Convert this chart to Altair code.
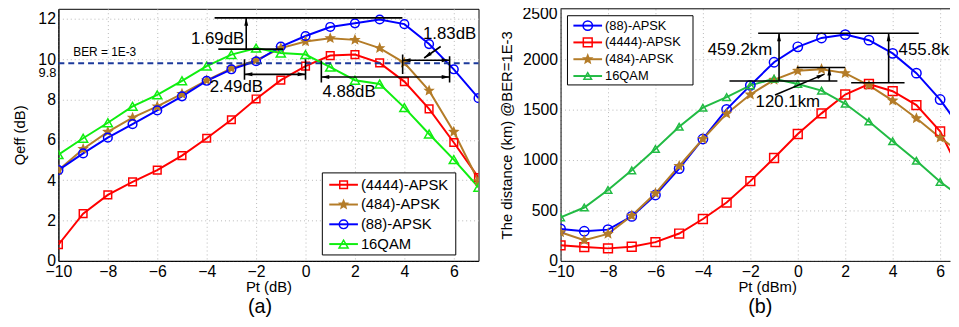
import altair as alt
import pandas as pd

FONT = "Liberation Sans"

# ---------------- data ----------------
pt = list(range(-10, 8))

names_a = ["(4444)-APSK", "(484)-APSK", "(88)-APSK", "16QAM"]
q_4444 = [0.80, 2.34, 3.27, 3.92, 4.50, 5.22, 6.08, 7.00, 8.03, 8.96, 9.66, 10.18, 10.23, 9.82, 8.89, 7.54, 5.87, 4.13]
q_484 = [4.50, 5.55, 6.40, 7.10, 7.66, 8.28, 8.95, 9.55, 9.95, 10.55, 10.88, 11.04, 10.96, 10.55, 9.82, 8.44, 6.40, 3.95]
q_88 = [4.50, 5.33, 6.11, 6.78, 7.46, 8.16, 8.93, 9.50, 9.90, 10.63, 11.15, 11.60, 11.78, 11.97, 11.74, 10.75, 9.50, 8.07]
q_qam = [5.27, 6.08, 6.85, 7.66, 8.23, 8.93, 9.66, 10.23, 10.55, 10.31, 10.23, 9.61, 8.96, 8.77, 7.60, 6.29, 5.02, 3.65]

names_b = ["(88)-APSK", "(4444)-APSK", "(484)-APSK", "16QAM"]
d_88 = [317, 294, 310, 441, 653, 915, 1209, 1503, 1741, 1970, 2123, 2211, 2244, 2189, 2058, 1862, 1600, 1270]
d_4444 = [154, 137, 124, 140, 186, 271, 415, 578, 791, 1020, 1258, 1463, 1650, 1754, 1683, 1545, 1284, 805]
d_484 = [284, 206, 268, 448, 670, 941, 1209, 1460, 1650, 1796, 1885, 1901, 1862, 1741, 1590, 1414, 1222, 1050]
d_qam = [431, 529, 703, 898, 1110, 1330, 1519, 1624, 1741, 1806, 1754, 1689, 1558, 1382, 1186, 993, 784, 612]

ber_level = [9.8]
ber_text = ["BER = 1E-3"]
top_tick_b = [2500]

# annotation segments (a): x1, y1, x2, y2
seg_a_x1 = [-3.68, -3.53, -2.40, -2.47, 0.00, -2.47, 0.64, 5.83, 0.64, 3.93, 3.93, 5.47]
seg_a_y1 = [12.05, 10.50, 10.50, 8.98, 8.98, 9.25, 8.85, 8.85, 9.12, 9.27, 9.95, 10.63]
seg_a_x2 = [3.92, -0.90, -2.40, -2.47, 0.00, 0.00, 0.64, 5.83, 5.83, 3.93, 5.83, 4.80]
seg_a_y2 = [12.05, 10.50, 12.05, 10.00, 10.00, 9.25, 9.94, 10.15, 9.12, 10.24, 9.95, 10.06]
head_a_x = [-2.40, -2.47, 0.00, 0.64, 5.83, 3.93, 5.83, 4.80]
head_a_y = [12.05, 9.25, 9.25, 9.12, 9.12, 9.95, 9.95, 10.06]
head_a_ang = [0, 270, 90, 270, 90, 270, 90, 235]
lab_a = ["1.69dB", "2.49dB", "4.88dB", "1.83dB"]
lab_a_x = [-2.48, -2.80, 1.76, 5.83]
lab_a_y = [11.02, 8.60, 8.36, 11.23]
lab_a_align = ["right", "center", "center", "center"]

# annotation segments (b)
seg_b_x1 = [-1.67, -2.88, 2.25, -0.79, 3.83, -0.04, 1.33, -0.96]
seg_b_y1 = [2257, 1784, 1767, 1784, 1767, 1918, 1784, 1646]
seg_b_x2 = [5.10, 1.67, 4.50, -0.79, 3.83, 2.00, 1.33, 1.125]
seg_b_y2 = [2257, 1784, 1767, 2257, 2257, 1918, 1918, 1852]
head_b_x = [-0.79, 3.83, 1.33, 1.125]
head_b_y = [2257, 2257, 1918, 1852]
head_b_ang = [0, 0, 0, 67]
lab_b = ["459.2km", "455.8km", "120.1km"]
lab_b_x = [-1.08, 4.25, -0.42]
lab_b_y = [2087, 2087, 1578]
lab_b_align = ["right", "left", "center"]

captions = ["(a)", "(b)"]

# ---------------- styles ----------------
RED, BROWN, BLUE = "#ff0000", "#b47c28", "#0000ff"
GREEN_A, GREEN_B = "#10ee10", "#22bb44"
STAR = "M0,-1L0.26,-0.36L0.95,-0.31L0.43,0.14L0.59,0.81L0,0.45L-0.59,0.81L-0.43,0.14L-0.95,-0.31L-0.26,-0.36Z"
HEAD = "M0,0L0.5,2L-0.5,2Z"

style = {
    "(4444)-APSK": (RED, "transparent", "square", 60),
    "(484)-APSK": (BROWN, BROWN, STAR, 85),
    "(88)-APSK": (BLUE, "transparent", "circle", 90),
    "16QAM": (None, "transparent", "triangle-up", 95),
}


def scales(names, green):
    st = [style[n][0] or green for n in names]
    fi = [style[n][1] for n in names]
    sh = [style[n][2] for n in names]
    sz = [style[n][3] for n in names]
    return (alt.Scale(domain=names, range=st), alt.Scale(domain=names, range=fi),
            alt.Scale(domain=names, range=sh), alt.Scale(domain=names, range=sz))


def long_df(names, series):
    rows = []
    for n, vals in zip(names, series):
        for x, v in zip(pt, vals):
            rows.append({"pt": x, "val": v, "series": n})
    return pd.DataFrame(rows)


one = pd.DataFrame({"k": [0]})


def panel(df, names, green, xdom, ydom, width, height, xvals, yvals, xtitle, ytitle,
          segs, heads, labs, leg, caption, extra_layers, xtitle_x=None, ytitle_pad=4):
    s_st, s_fi, s_sh, s_sz = scales(names, green)
    xaxis_kw = dict(values=xvals, title=xtitle, labelFlush=False, titlePadding=0, labelPadding=3)
    if xtitle_x is not None:
        xaxis_kw["titleX"] = xtitle_x
    X = alt.X("pt:Q", scale=alt.Scale(domain=xdom, nice=False, zero=False), axis=alt.Axis(**xaxis_kw))
    Y = alt.Y("val:Q", scale=alt.Scale(domain=ydom, nice=False, zero=False),
              axis=alt.Axis(values=yvals, title=ytitle, labelFlush=False, format="d",
                            titlePadding=ytitle_pad))
    base = alt.Chart(df)
    lines = base.mark_line(strokeWidth=2, clip=True).encode(
        x=X, y=Y, stroke=alt.Stroke("series:N", scale=s_st, legend=None),
        order=alt.Order("pt:Q"))
    pts = base.mark_point(filled=True, opacity=1, strokeWidth=1.5, clip=True).encode(
        x="pt:Q", y="val:Q",
        stroke=alt.Stroke("series:N", scale=s_st, legend=None),
        fill=alt.Fill("series:N", scale=s_fi, legend=None),
        shape=alt.Shape("series:N", scale=s_sh, legend=None),
        size=alt.Size("series:N", scale=s_sz, legend=None))
    sx1, sy1, sx2, sy2 = segs
    seg_df = pd.DataFrame({"pt": sx1, "val": sy1, "x2": sx2, "y2": sy2})
    rules = alt.Chart(seg_df).mark_rule(color="black", strokeWidth=1.6, clip=True).encode(
        x="pt:Q", y="val:Q", x2="x2:Q", y2="y2:Q")
    hx, hy, ha = heads
    head_df = pd.DataFrame({"pt": hx, "val": hy, "ang": ha})
    hd = alt.Chart(head_df).mark_point(shape=HEAD, filled=True, color="black", opacity=1,
                                       size=64, clip=True).encode(
        x="pt:Q", y="val:Q", angle=alt.Angle("ang:Q", scale=None))
    lt, lx, ly, la = labs
    lab_layers = []
    for t, x, y, a in zip(lt, lx, ly, la):
        ldf = pd.DataFrame({"pt": [x], "val": [y], "t": [t]})
        lab_layers.append(alt.Chart(ldf).mark_text(font=FONT, fontSize=17, align=a,
                                                     baseline="middle", color="black", clip=True).encode(
            x="pt:Q", y="val:Q", text="t:N"))
    cap_df = pd.DataFrame({"t": [caption]})
    cap = alt.Chart(cap_df).mark_text(font=FONT, fontSize=20, color="black", baseline="middle").encode(
        x=alt.value(leg["cap_x"]), y=alt.value(leg["cap_y"]), text="t:N")
    inner = alt.layer(lines, pts, *extra_layers, rules, hd, *lab_layers, cap)

    # manual legend
    leg_df = pd.DataFrame({"series": names, "row": list(range(len(names)))})
    LY = alt.Y("row:Q", scale=alt.Scale(domain=[0, 3], range=leg["rows"]), axis=None)
    box = alt.Chart(one).mark_rect(fill="white", stroke="black", strokeWidth=1).encode(
        x=alt.value(leg["box"][0]), x2=alt.value(leg["box"][2]),
        y=alt.value(leg["box"][1]), y2=alt.value(leg["box"][3]))
    lrule = alt.Chart(leg_df).mark_rule(strokeWidth=2).encode(
        x=alt.value(leg["line"][0]), x2=alt.value(leg["line"][1]), y=LY,
        stroke=alt.Stroke("series:N", scale=s_st, legend=None))
    lpt = alt.Chart(leg_df).mark_point(filled=True, opacity=1, strokeWidth=1.5).encode(
        x=alt.value((leg["line"][0] + leg["line"][1]) / 2), y=LY,
        stroke=alt.Stroke("series:N", scale=s_st, legend=None),
        fill=alt.Fill("series:N", scale=s_fi, legend=None),
        shape=alt.Shape("series:N", scale=s_sh, legend=None),
        size=alt.Size("series:N", scale=s_sz, legend=None))
    ltxt = alt.Chart(leg_df).mark_text(font=FONT, fontSize=leg["fs"], align="left",
                                       baseline="middle", color="black").encode(
        x=alt.value(leg["text_x"]), y=LY, text="series:N")
    legend = alt.layer(box, lrule, lpt, ltxt)
    return alt.layer(inner, legend).resolve_scale(y="independent").properties(
        width=width, height=height)


# ---------- panel (a) ----------
df_a = long_df(names_a, [q_4444, q_484, q_88, q_qam])
ber_df = pd.DataFrame({"val": ber_level, "pt": [-9.4], "t": ber_text, "lab": ["9.8"]})
ber_rule = alt.Chart(ber_df).mark_rule(color="#1c3a9c", strokeWidth=2, strokeDash=[6, 4]).encode(
    y="val:Q", x=alt.value(0), x2=alt.value(425))
ber_txt = alt.Chart(ber_df).mark_text(font=FONT, fontSize=12, align="left", baseline="middle",
                                      dy=-11, color="black").encode(x="pt:Q", y="val:Q", text="t:N")
ber_lab = alt.Chart(ber_df).mark_text(font=FONT, fontSize=13, align="right", baseline="middle",
                                      dy=10, color="black").encode(x=alt.value(-2), y="val:Q", text="lab:N")

left = panel(df_a, names_a, GREEN_A, [-10, 7], [0, 12.5], 425, 255,
             list(range(-10, 7, 2)), list(range(0, 13, 2)), "Pt (dB)", "Qeff (dB)",
             (seg_a_x1, seg_a_y1, seg_a_x2, seg_a_y2), (head_a_x, head_a_y, head_a_ang),
             (lab_a, lab_a_x, lab_a_y, lab_a_align),
             dict(box=[267, 166, 402, 249], rows=[178, 238], line=[274, 303], text_x=306, fs=15,
                  cap_x=204, cap_y=302),
             captions[0], [ber_rule, ber_txt, ber_lab], ytitle_pad=10).properties(
    view=alt.ViewBackground(stroke="black", strokeWidth=1))

# ---------- panel (b) ----------
df_b = long_df(names_b, [d_88, d_4444, d_484, d_qam])
top_border = alt.Chart(one).mark_rule(color="black", strokeWidth=1).encode(
    x=alt.value(0), x2=alt.value(394), y=alt.value(0))
top_lab = alt.Chart(pd.DataFrame({"val": top_tick_b, "t": [str(v) for v in top_tick_b]})).mark_text(
    font=FONT, fontSize=16, align="right", baseline="middle", dy=5, color="black").encode(
    x=alt.value(-3), y="val:Q", text="t:N")

right = panel(df_b, names_b, GREEN_B, [-10, 6.4167], [0, 2500], 394, 255,
              list(range(-10, 7, 2)), list(range(0, 2001, 500)), "Pt (dBm)",
              "The distance (km)  @BER=1E-3",
              (seg_b_x1, seg_b_y1, seg_b_x2, seg_b_y2), (head_b_x, head_b_y, head_b_ang),
              (lab_b, lab_b_x, lab_b_y, lab_b_align),
              dict(box=[7, 7, 134, 77], rows=[17, 68], line=[13, 42], text_x=45, fs=13,
                   cap_x=202, cap_y=302),
              captions[1], [top_border, top_lab], xtitle_x=209, ytitle_pad=8).properties(
    view=alt.ViewBackground(stroke="transparent"))

chart = alt.hconcat(left, right, spacing=18).resolve_scale(
    x="independent", y="independent", stroke="independent", fill="independent",
    shape="independent", size="independent"
).properties(
    padding={"left": 4, "top": -5, "right": 0, "bottom": 0}
).configure_axis(
    labelFont=FONT, labelFontSize=16, labelColor="black", labelPadding=3,
    titleFont=FONT, titleFontSize=15, titleFontWeight="normal", titleColor="black",
    domainColor="black", domainWidth=1, ticks=False,
    gridColor="#b8b8b8", gridDash=[1, 3], gridWidth=1
).configure_view(stroke="black")

chart.save("out.html", embed_options={"renderer": "svg", "actions": False})
